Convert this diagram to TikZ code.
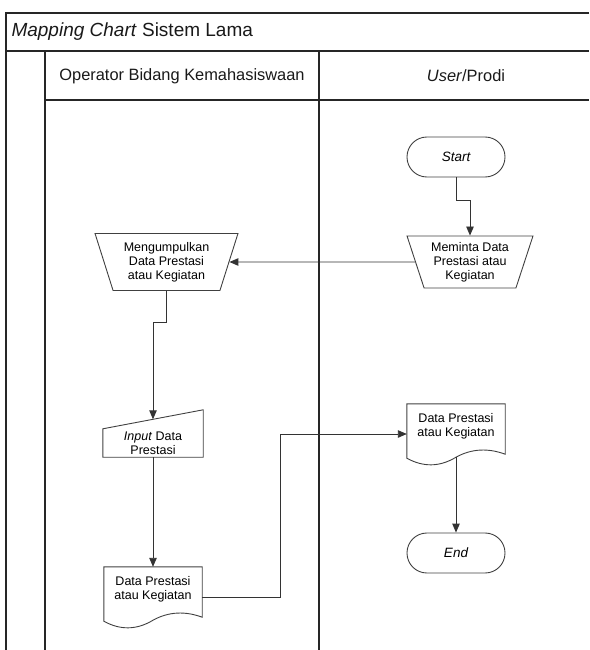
\documentclass[tikz,border=0pt]{standalone}
\usepackage{fontspec}
\setmainfont{Liberation Sans}
\usetikzlibrary{shapes.geometric,arrows.meta,calc}

\newcommand{\boxfont}{\fontsize{12.5}{14}\selectfont}

\begin{document}
\begin{tikzpicture}[x=1pt,y=-1pt,
  frame/.style={draw=black!85, line width=1.3pt},
  flow/.style={draw=black!75, line width=0.9pt},
  conn/.style={draw=black!80, line width=0.9pt, -{Triangle[length=9pt,width=7.5pt]}},
  terminal/.style={flow, rectangle, rounded corners=19.9pt, minimum width=98pt,
    minimum height=40pt, inner sep=0pt, font=\fontsize{13.5}{16}\selectfont\itshape},
  manual/.style={flow, trapezium, trapezium left angle=110, trapezium right angle=110,
    trapezium stretches=true, align=center, inner sep=0pt, font=\boxfont},
  docbox/.style={rectangle, minimum width=98pt, minimum height=44pt, inner sep=0pt,
    align=center, font=\boxfont},
  inbox/.style={rectangle, minimum width=100pt, minimum height=28pt, inner sep=0pt,
    align=center, font=\boxfont},
  heading/.style={font=\fontsize{16.4}{19}\selectfont, text=black!90},
]
\useasboundingbox (0,0) rectangle (589,650);

% pool frame and swimlanes
\draw[frame] (589,13) -- (6,13) -- (6,650);
\draw[frame] (6,51) -- (589,51);
\draw[frame] (45,51) -- (45,650);
\draw[frame] (319,51) -- (319,650);
\draw[frame] (45,100) -- (589,100);

\node[anchor=west, font=\fontsize{19}{22}\selectfont, text=black!90] (title) at (8,32)
  {\textit{Mapping Chart} Sistem Lama};
\node[heading] (laneA) at (182,76) {Operator Bidang Kemahasiswaan};
\node[heading] (laneB) at (466,76) {\textit{User}/Prodi};

% flow elements
\node[terminal] (start) at (456,157) {Start};
\node[manual, minimum width=126pt, minimum height=52pt] (minta) at (470,262)
  {Meminta Data\\Prestasi atau\\Kegiatan};
\node[manual, minimum width=143pt, minimum height=57pt] (kumpul) at (166.5,262)
  {Mengumpulkan\\Data Prestasi\\atau Kegiatan};

\node[inbox] (inp) at (153,443) {\textit{Input} Data\\Prestasi};
\draw[flow] (inp.south west) -- (inp.south east) -- ($(inp.north east)+(0,-19)$)
  -- (inp.north west) -- cycle;
\coordinate (inptop) at ($(inp.north)+(0,-9.5)$);

\node[docbox] (doc1) at (153,589) {Data Prestasi\\atau Kegiatan};
\draw[flow] (doc1.north west) -- ($(doc1.south west)+(0,10)$)
  .. controls ($(doc1.south west)+(16.3,19)$) and ($(doc1.south west)+(32.7,19)$)
  .. ($(doc1.south)+(0,9)$)
  .. controls ($(doc1.south)+(16.3,0)$) and ($(doc1.south east)+(-16.3,0)$)
  .. ($(doc1.south east)+(0,6)$) -- (doc1.north east) -- cycle;

\node[docbox] (doc2) at (456,426) {Data Prestasi\\atau Kegiatan};
\draw[flow] (doc2.north west) -- ($(doc2.south west)+(0,10)$)
  .. controls ($(doc2.south west)+(16.3,19)$) and ($(doc2.south west)+(32.7,19)$)
  .. ($(doc2.south)+(0,9)$)
  .. controls ($(doc2.south)+(16.3,0)$) and ($(doc2.south east)+(-16.3,0)$)
  .. ($(doc2.south east)+(0,6)$) -- (doc2.north east) -- cycle;

\node[terminal] (end) at (456,553) {End};

% connectors
\coordinate (jog) at (280,434);
\draw[conn] (start.south) -- ++(0,23) -| (minta.north);
\draw[conn] (minta.west) -- (kumpul.east);
\draw[conn] (kumpul.south) -- ++(0,31) -| (inptop);
\draw[conn] (inp.south) -- (doc1.north);
\draw[conn] ($(doc1.east)+(0,8)$) -| (jog) -- ($(doc2.west)+(0,8)$);
\draw[conn] ($(doc2.south)+(0,9)$) -- (end.north);
\end{tikzpicture}
\end{document}
